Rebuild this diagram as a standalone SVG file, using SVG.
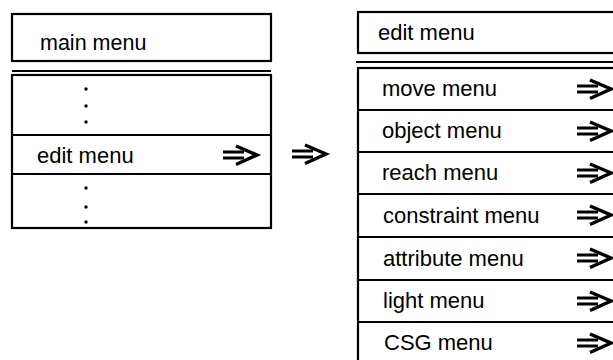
<svg xmlns="http://www.w3.org/2000/svg" xmlns:xlink="http://www.w3.org/1999/xlink" width="613" height="360" viewBox="0 0 613 360">
<style>
.box{fill:#fff;stroke:#000;stroke-width:2.2}
.ln{stroke:#000;stroke-width:2.2;fill:none}
.t{font-family:"Liberation Sans",Arial,sans-serif;font-size:22px;fill:#000}
.dot{fill:#000}
.arr{stroke:#000;fill:none;stroke-linecap:butt;stroke-linejoin:miter}
</style>
<defs>
<g id="dbl">
<line class="arr" x1="0" y1="-3" x2="21" y2="-3" stroke-width="3"/>
<line class="arr" x1="0" y1="3" x2="21" y2="3" stroke-width="3"/>
<polyline class="arr" points="13,-9 34,0 13,9.5" stroke-width="3.4"/>
</g>
</defs>
<rect width="613" height="360" fill="#fff"/>

<g id="main-menu">
<rect class="box" x="12" y="14" width="259" height="47"/>
<text class="t" x="40" y="50" style="font-size:21.5px">main menu</text>
</g>
<line class="ln" x1="12" y1="71" x2="271" y2="71"/>
<g id="main-list">
<rect class="box" x="12" y="75" width="259" height="153"/>
<line class="ln" x1="12" y1="135" x2="271" y2="135"/>
<line class="ln" x1="12" y1="174" x2="271" y2="174"/>
<circle class="dot" cx="86" cy="89" r="1.7"/>
<circle class="dot" cx="86" cy="106" r="1.7"/>
<circle class="dot" cx="86" cy="122" r="1.7"/>
<text class="t" x="37" y="163">edit menu</text>
<use xlink:href="#dbl" x="223" y="155"/>
<circle class="dot" cx="86" cy="188" r="1.7"/>
<circle class="dot" cx="86" cy="207" r="1.7"/>
<circle class="dot" cx="86" cy="222" r="1.7"/>
</g>

<g id="connectors">
<use xlink:href="#dbl" x="292" y="154"/>
</g>

<g id="edit-menu">
<rect class="box" x="358" y="12" width="270" height="41"/>
<text class="t" x="378" y="40">edit menu</text>
</g>
<line class="ln" x1="356" y1="62" x2="620" y2="62"/>
<g id="edit-list">
<rect class="box" x="358" y="68" width="270" height="300"/>
<line class="ln" x1="358" y1="110" x2="620" y2="110"/>
<line class="ln" x1="358" y1="152" x2="620" y2="152"/>
<line class="ln" x1="358" y1="194" x2="620" y2="194"/>
<line class="ln" x1="358" y1="237" x2="620" y2="237"/>
<line class="ln" x1="358" y1="280" x2="620" y2="280"/>
<line class="ln" x1="358" y1="322" x2="620" y2="322"/>
<g id="move-menu"><text class="t" x="382" y="96">move menu</text><use xlink:href="#dbl" x="577" y="89"/></g>
<g id="object-menu"><text class="t" x="382" y="138">object menu</text><use xlink:href="#dbl" x="577" y="131"/></g>
<g id="reach-menu"><text class="t" x="382" y="180">reach menu</text><use xlink:href="#dbl" x="577" y="173"/></g>
<g id="constraint-menu"><text class="t" x="383" y="223">constraint menu</text><use xlink:href="#dbl" x="577" y="215"/></g>
<g id="attribute-menu"><text class="t" x="383" y="266">attribute menu</text><use xlink:href="#dbl" x="577" y="258"/></g>
<g id="light-menu"><text class="t" x="383" y="308">light menu</text><use xlink:href="#dbl" x="577" y="301"/></g>
<g id="csg-menu"><text class="t" x="384" y="350">CSG menu</text><use xlink:href="#dbl" x="577" y="343"/></g>
</g>
</svg>
